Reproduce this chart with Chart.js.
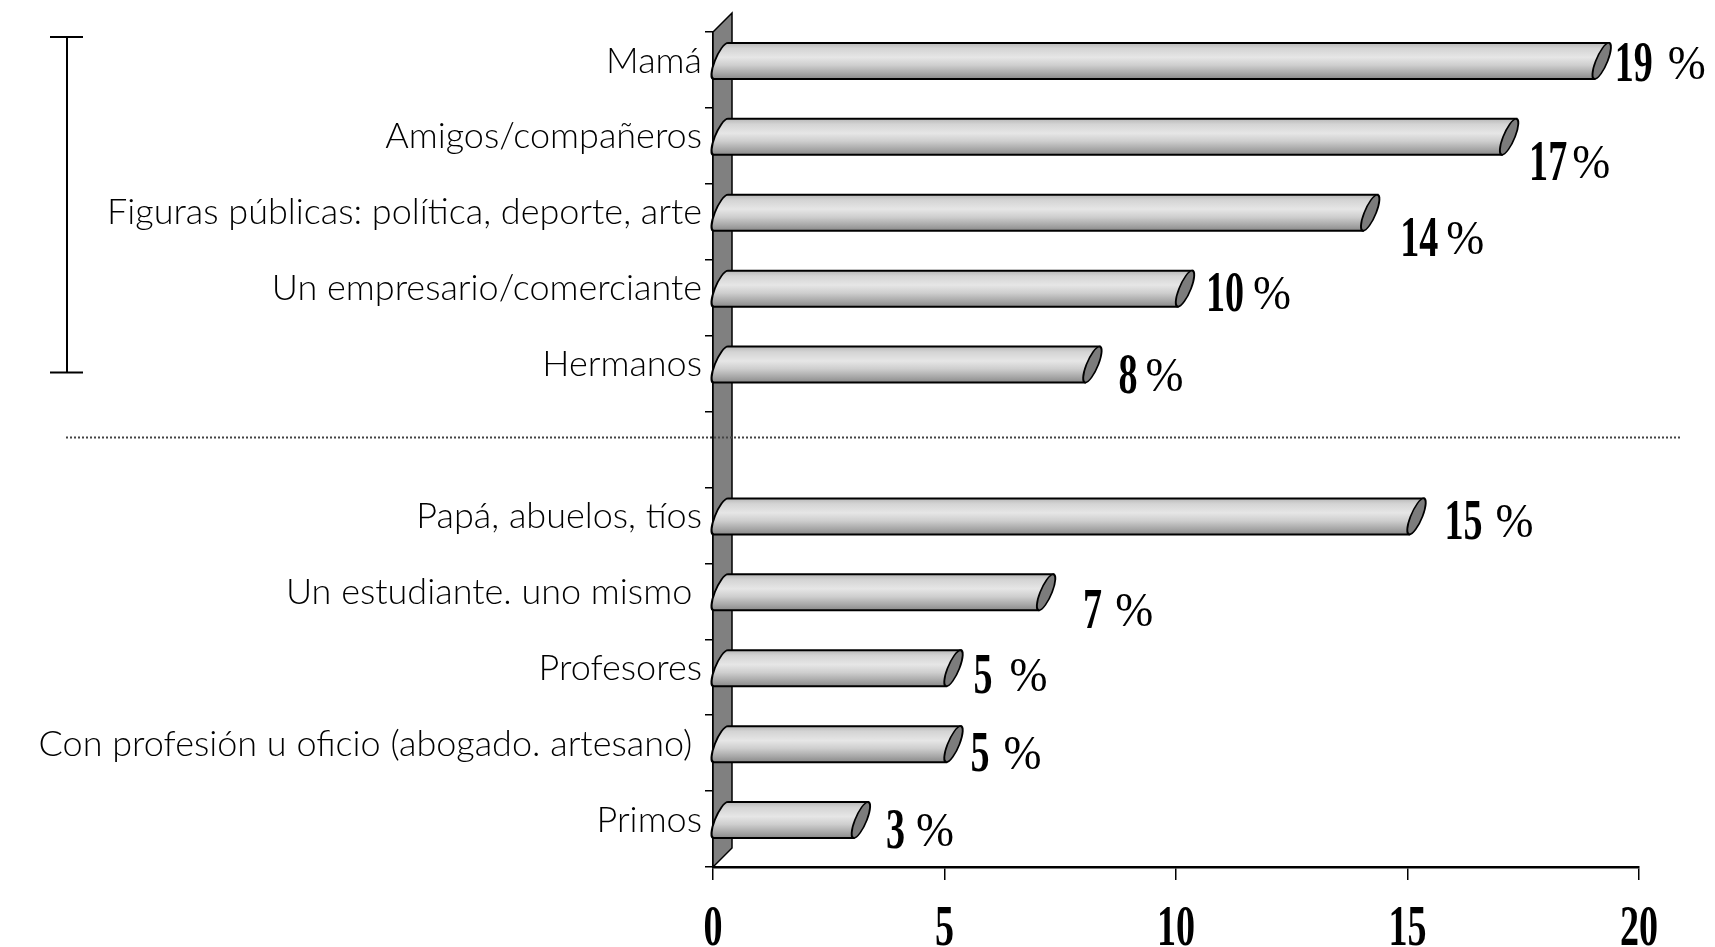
<!DOCTYPE html>
<html>
<head>
<meta charset="utf-8">
<script src="https://cdn.jsdelivr.net/npm/chart.js@4.4.0/dist/chart.umd.min.js"></script>
<style>
  html, body { margin: 0; padding: 0; background: #fff; }
  #chart { display: block; }
</style>
</head>
<body>
<canvas id="chart" width="1715" height="947"></canvas>
<script>
// Categories (empty slot = gap under the dotted separator)
const categories = [
    'Mamá',
    'Amigos/compañeros',
    'Figuras públicas: política, deporte, arte',
    'Un empresario/comerciante',
    'Hermanos',
    '',
    'Papá, abuelos, tíos',
    'Un estudiante. uno mismo ',
    'Profesores',
    'Con profesión u oficio (abogado. artesano) ',
    'Primos'
];
const values = [19, 17, 14, 10, 8, null, 15, 7, 5, 5, 3];
const xTicks = [0, 5, 10, 15, 20];

// Where each value label sits relative to its bar end: [dx, dy, gap before %]
const labelShift = [
    [22, 1, 17], [29, 24, 7], [39, 24, 10], [30, 3, 11], [35, 9, 10],
    null,
    [37, 4, 15], [46, 17, 15], [29, 6, 19], [26, 8, 16], [34, 9, 13]
];

const DEPTH = 19;      // 3D offset of the wall
const BAR_LIFT = 9;    // bars sit half way into the depth

// Condensed bold numbers like the original
function drawNarrow(ctx, text, x, y, font, sx, align) {
    ctx.save();
    ctx.translate(x, y);
    ctx.scale(sx, 1);
    ctx.font = font;
    ctx.textAlign = align;
    ctx.textBaseline = 'alphabetic';
    ctx.fillStyle = '#000';
    ctx.fillText(text, 0, 0);
    ctx.restore();
}

const decor = {
    id: 'decor',
    beforeDatasetsDraw(chart) {
        const ctx = chart.ctx;
        const a = chart.chartArea;
        const yScale = chart.scales.y;

        // gray side wall
        ctx.save();
        ctx.beginPath();
        ctx.moveTo(a.left, a.top);
        ctx.lineTo(a.left + DEPTH, a.top - DEPTH);
        ctx.lineTo(a.left + DEPTH, a.bottom - DEPTH);
        ctx.lineTo(a.left, a.bottom);
        ctx.closePath();
        ctx.fillStyle = '#808080';
        ctx.fill();
        ctx.lineWidth = 1.5;
        ctx.strokeStyle = '#000';
        ctx.stroke();
        ctx.restore();

        // dotted separator through the empty slot
        const sepY = yScale.getPixelForValue(5) - 12;
        ctx.save();
        ctx.setLineDash([2, 2]);
        ctx.strokeStyle = '#444';
        ctx.lineWidth = 2;
        ctx.beginPath();
        ctx.moveTo(66, sepY);
        ctx.lineTo(1681, sepY);
        ctx.stroke();
        ctx.restore();

        // bracket around the first group
        const bTop = yScale.getPixelForValue(0) - 33;
        const bBot = yScale.getPixelForValue(4) - 1;
        ctx.save();
        ctx.strokeStyle = '#000';
        ctx.lineWidth = 2;
        ctx.beginPath();
        ctx.moveTo(67, bTop); ctx.lineTo(67, bBot);
        ctx.moveTo(50, bTop); ctx.lineTo(83, bTop);
        ctx.moveTo(50, bBot); ctx.lineTo(83, bBot);
        ctx.stroke();
        ctx.restore();
    },
    afterDatasetsDraw(chart) {
        const ctx = chart.ctx;
        const meta = chart.getDatasetMeta(0);
        meta.data.forEach((el, i) => {
            if (values[i] == null) return;
            const p = el.getProps(['x', 'y', 'base', 'height'], true);
            const cy = p.y - BAR_LIFT;
            const ry = p.height / 2;
            const rx = 6;
            const L = p.base + 7;
            const R = p.x + 9;

            ctx.save();
            // shear so the end caps lean like the 3D cylinders
            ctx.transform(1, 0, -14 / p.height, 1, 0, cy);
            const g = ctx.createLinearGradient(0, -ry, 0, ry);
            g.addColorStop(0, '#b8b8b8');
            g.addColorStop(0.15, '#d4d4d4');
            g.addColorStop(0.4, '#e6e6e6');
            g.addColorStop(0.62, '#cecece');
            g.addColorStop(0.85, '#a6a6a6');
            g.addColorStop(1, '#8a8a8a');

            ctx.beginPath();
            ctx.moveTo(L, -ry);
            ctx.lineTo(R, -ry);
            ctx.lineTo(R, ry);
            ctx.lineTo(L, ry);
            ctx.ellipse(L, 0, rx, ry, 0, Math.PI / 2, Math.PI * 1.5, false);
            ctx.closePath();
            ctx.fillStyle = g;
            ctx.fill();
            ctx.lineWidth = 2;
            ctx.strokeStyle = '#000';
            ctx.stroke();

            ctx.beginPath();
            ctx.ellipse(R, 0, rx, ry, 0, 0, Math.PI * 2);
            ctx.fillStyle = '#7c7c7c';
            ctx.fill();
            ctx.lineWidth = 1.8;
            ctx.stroke();
            ctx.restore();

            // value label
            const s = labelShift[i];
            const num = String(values[i]);
            const baseY = cy + s[1] + 19;
            const numFont = 'bold 56px "Liberation Serif"';
            const sx = 0.68;
            drawNarrow(ctx, num, p.x + s[0], baseY, numFont, sx, 'left');
            ctx.save();
            ctx.font = numFont;
            const w = ctx.measureText(num).width * sx;
            ctx.restore();
            drawNarrow(ctx, '%', p.x + s[0] + w + s[2] - 2, baseY - 2,
                '48px "Liberation Serif"', 0.95, 'left');
        });

        // x tick numbers
        const xs = chart.scales.x;
        xs.ticks.forEach(t => {
            drawNarrow(ctx, String(t.value), xs.getPixelForValue(t.value),
                chart.chartArea.bottom + 78, 'bold 56px "Liberation Serif"', 0.68, 'center');
        });
    }
};

new Chart(document.getElementById('chart').getContext('2d'), {
    type: 'bar',
    data: {
        labels: categories,
        datasets: [{
            data: values,
            backgroundColor: 'rgba(0,0,0,0)',
            borderWidth: 0,
            categoryPercentage: 1,
            barPercentage: 0.474
        }]
    },
    options: {
        indexAxis: 'y',
        responsive: false,
        devicePixelRatio: 1,
        animation: false,
        layout: { padding: { top: 32, right: 76, bottom: 0, left: 0 } },
        plugins: {
            legend: { display: false },
            tooltip: { enabled: false }
        },
        scales: {
            x: {
                min: 0,
                max: 20,
                afterBuildTicks: s => { s.ticks = xTicks.map(v => ({ value: v })); },
                ticks: { display: false },
                grid: { drawOnChartArea: false, drawTicks: true, tickLength: 13, color: '#000', lineWidth: 1.5 },
                border: { display: true, color: '#000', width: 2.5 },
                afterFit: s => { s.height = 80; }
            },
            y: {
                offset: true,
                grid: { offset: true, drawOnChartArea: false, drawTicks: true, tickLength: 8, color: '#000', lineWidth: 1.5 },
                border: { display: true, color: '#000', width: 1.5 },
                ticks: {
                    color: '#000',
                    font: { family: 'Lato', size: 36, weight: 300 },
                    labelOffset: -9,
                    padding: 3
                },
                afterFit: s => { s.width = 713; }
            }
        }
    },
    plugins: [decor]
});
</script>
</body>
</html>
